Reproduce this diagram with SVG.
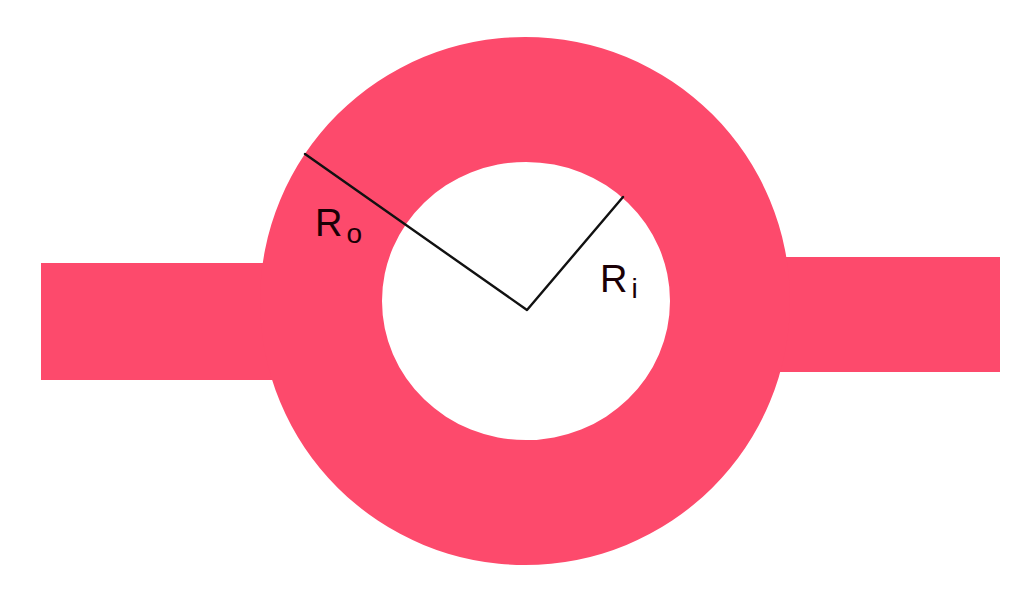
<svg xmlns="http://www.w3.org/2000/svg" width="1010" height="608" viewBox="0 0 1010 608">
<style>
.fill{fill:#fd4a6c}
.lbl{font-family:"Liberation Sans",Arial,sans-serif;font-size:38px;fill:#1a0006}
.sub{font-size:28px}
.ln{stroke:#111;stroke-width:2.4;fill:none;stroke-linecap:round;stroke-linejoin:round}
</style>
<rect width="1010" height="608" fill="#fff"/>
<g id="left-bar"><rect class="fill" x="41" y="263" width="240" height="117"/></g>
<g id="right-bar"><rect class="fill" x="775" y="257" width="225" height="115"/></g>
<g id="ring"><path class="fill" fill-rule="evenodd" d="M260,301 A265,264 0 1,0 790,301 A265,264 0 1,0 260,301 Z M382,301 A144,139 0 1,1 670,301 A144,139 0 1,1 382,301 Z"/></g>
<g id="connectors">
<polyline class="ln" points="305,154 527,310 623,197"/>
</g>
<g id="label-ro"><text class="lbl" x="315" y="236">R<tspan class="sub" dx="4" dy="7">o</tspan></text></g>
<g id="label-ri"><text class="lbl" x="600" y="292" fill="#000">R<tspan class="sub" dx="4" dy="6">i</tspan></text></g>
</svg>
